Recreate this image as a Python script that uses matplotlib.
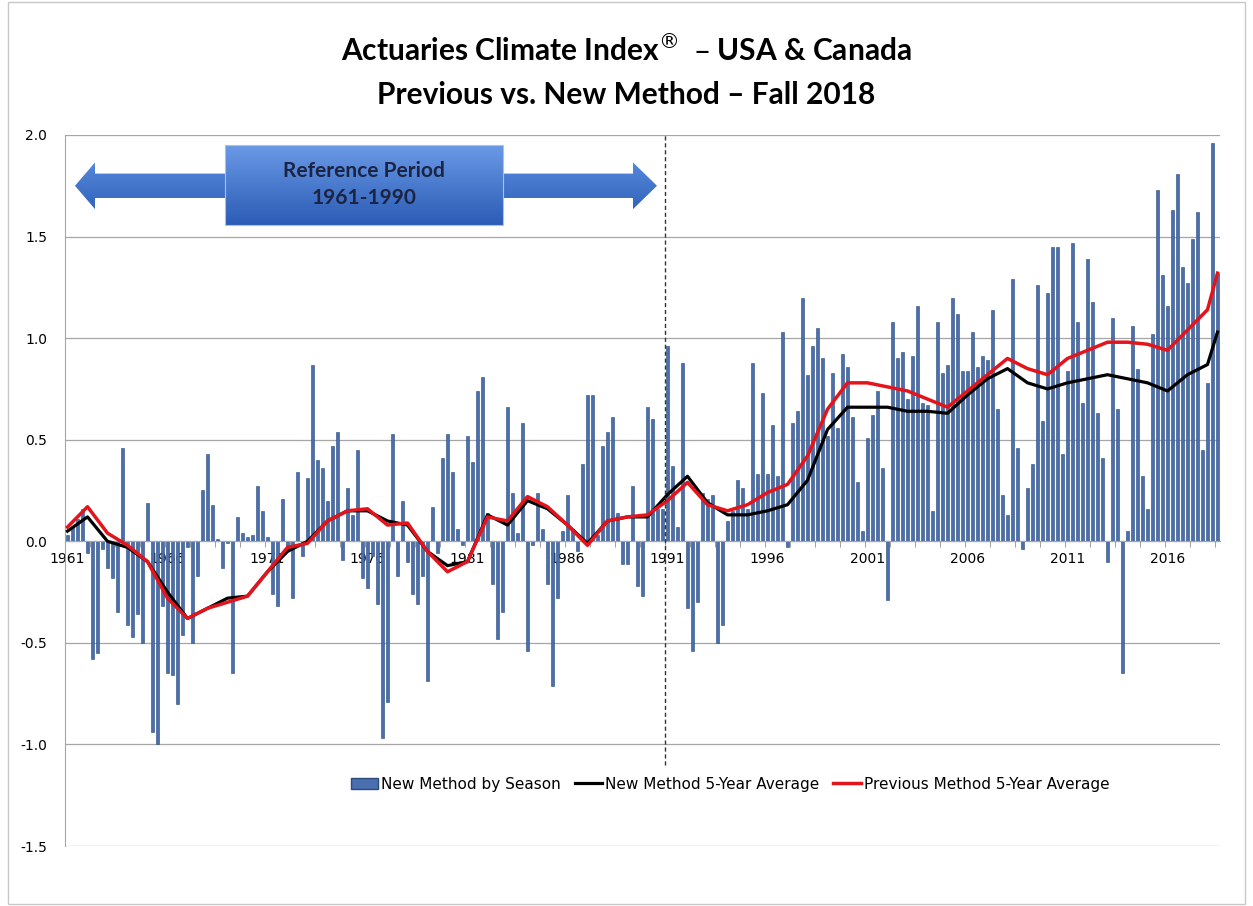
import numpy as np
import matplotlib.pyplot as plt
from matplotlib.patches import Patch, Polygon, Rectangle
from matplotlib.lines import Line2D

# Saisons : hiver 1961 -> automne 2018
season_vals = [
    0.03, 0.07, 0.11, 0.16, -0.06, -0.58, -0.55, -0.04, -0.13, -0.18, -0.35, 0.46, -0.41, -0.47, -0.36, -0.50, 0.19, -0.94, -1.00,
    -0.32, -0.65, -0.66, -0.80, -0.46, -0.03, -0.50, -0.17, 0.25, 0.43, 0.18, 0.01, -0.13, -0.01, -0.65, 0.12, 0.04, 0.02, 0.03,
    0.27, 0.15, 0.02, -0.26, -0.32, 0.21, -0.04, -0.28, 0.34, -0.07, 0.31, 0.87, 0.40, 0.36, 0.20, 0.47, 0.54, -0.09, 0.26, 0.13,
    0.45, -0.18, -0.23, -0.07, -0.31, -0.97, -0.79, 0.53, -0.17, 0.20, -0.10, -0.26, -0.31, -0.17, -0.69, 0.17, -0.06, 0.41, 0.53,
    0.34, 0.06, -0.02, 0.52, 0.39, 0.74, 0.81, 0.14, -0.21, -0.48, -0.35, 0.66, 0.24, 0.04, 0.58, -0.54, -0.02, 0.24, 0.06, -0.21,
    -0.71, -0.28, 0.05, 0.23, 0.06, -0.05, 0.38, 0.72, 0.72, 0.03, 0.47, 0.54, 0.61, 0.14, -0.11, -0.11, 0.27, -0.22, -0.27, 0.66,
    0.60, 0.16, 0.16, 0.96, 0.37, 0.07, 0.88, -0.33, -0.54, -0.30, 0.24, 0.21, 0.23, -0.50, -0.41, 0.10, 0.15, 0.30, 0.26,
    0.16, 0.88, 0.33, 0.73, 0.33, 0.57, 0.32, 1.03, -0.03, 0.58, 0.64, 1.20, 0.82, 0.96, 1.05, 0.90, 0.52, 0.83, 0.56, 0.92,
    0.86, 0.61, 0.29, 0.05, 0.51, 0.62, 0.74, 0.36, -0.29, 1.08, 0.90, 0.93, 0.70, 0.91, 1.16, 0.68, 0.67, 0.15, 1.08,
    0.83, 0.87, 1.20, 1.12, 0.84, 0.84, 1.03, 0.86, 0.91, 0.89, 1.14, 0.65, 0.23, 0.13, 1.29, 0.46, -0.04, 0.26, 0.38, 1.26,
    0.59, 1.22, 1.45, 1.45, 0.43, 0.84, 1.47, 1.08, 0.68, 1.39, 1.18, 0.63, 0.41, -0.10, 1.10, 0.65, -0.65, 0.05, 1.06, 0.85,
    0.32, 0.16, 1.02, 1.73, 1.31, 1.16, 1.63, 1.81, 1.35, 1.27, 1.49, 1.62, 0.45, 0.78, 1.96, 1.32,
]

# Moyennes mobiles 5 ans, lues au début de chaque année (+ dernier point)
years = list(range(1961, 2019))
new_avg = [
    0.05, 0.12, 0.00, -0.03, -0.10, -0.25, -0.38, -0.33, -0.28, -0.27,
    -0.15, -0.05, 0.00, 0.10, 0.15, 0.15, 0.10, 0.08, -0.05, -0.12,
    -0.10, 0.13, 0.08, 0.20, 0.16, 0.08, -0.01, 0.10, 0.12, 0.12,
    0.23, 0.32, 0.19, 0.13, 0.13, 0.15, 0.18, 0.30, 0.55, 0.66,
    0.66, 0.66, 0.64, 0.64, 0.63, 0.72, 0.80, 0.85, 0.78, 0.75,
    0.78, 0.80, 0.82, 0.80, 0.78, 0.74, 0.82, 0.87, 1.03,
]
prev_avg = [
    0.07, 0.17, 0.04, -0.02, -0.10, -0.28, -0.38, -0.33, -0.30, -0.27,
    -0.15, -0.03, -0.01, 0.10, 0.15, 0.16, 0.08, 0.09, -0.05, -0.15,
    -0.10, 0.12, 0.10, 0.22, 0.17, 0.08, -0.02, 0.10, 0.12, 0.13,
    0.20, 0.29, 0.18, 0.15, 0.18, 0.24, 0.28, 0.42, 0.65, 0.78,
    0.78, 0.76, 0.74, 0.70, 0.66, 0.74, 0.82, 0.90, 0.85, 0.82,
    0.90, 0.94, 0.98, 0.98, 0.97, 0.94, 1.04, 1.14, 1.32,
]

n = len(season_vals)
idx = np.arange(n)
line_x = [4 * (y - 1961) for y in years] + [n - 1]

fig = plt.figure(figsize=(12.53, 9.06), dpi=100)
fig.patches.append(Rectangle((8 / 1253, 0.002), 1 - 16 / 1253, 0.996, transform=fig.transFigure,
                             fill=False, edgecolor='#c8c8c8', lw=1))
ax = fig.add_axes([65 / 1253, 1 - 846 / 906, (1220 - 65) / 1253, (846 - 135) / 906])

ax.bar(idx, season_vals, width=0.7, color='#4a6fae', edgecolor='#2b4a7c', linewidth=0.4, zorder=2)
ax.plot(line_x, new_avg, color='black', lw=2.3, zorder=3)
ax.plot(line_x, prev_avg, color='#e3141b', lw=2.5, zorder=4)

ax.set_xlim(-0.5, n - 0.5)
ax.set_ylim(-1.5, 2.0)
ax.set_yticks(np.arange(-1.5, 2.01, 0.5))
ax.set_yticklabels([f'{v:.1f}' for v in np.arange(-1.5, 2.01, 0.5)], fontsize=10)
ax.yaxis.grid(True, color='#a6a6a6', lw=0.9)
ax.set_axisbelow(True)
ax.tick_params(axis='y', length=0, pad=13)

label_pos = list(range(0, n, 20))
ax.set_xticks(label_pos)
ax.set_xticklabels([str(1961 + p // 4) for p in label_pos], fontsize=9.5, fontweight='bold')
ax.set_xticks(np.arange(4.5, n, 5), minor=True)
ax.tick_params(axis='x', which='major', length=0, pad=8)
ax.tick_params(axis='x', which='minor', length=4, color='#909090', direction='out')

for s in ['top', 'right']:
    ax.spines[s].set_visible(False)
ax.spines['left'].set_color('#a6a6a6')
ax.spines['bottom'].set_position(('data', 0))
ax.spines['bottom'].set_color('#a6a6a6')

# ligne pointillée 1991
ax.axvline(119.5, ymin=(-1.1 + 1.5) / 3.5, ymax=1, color='#333333', lw=1, ls=(0, (3, 2)), zorder=5)

# flèche + boîte "Reference Period"
arrow_pts = [(1.5, 1.75), (5.5, 1.865), (5.5, 1.81), (113.1, 1.81), (113.1, 1.865), (117.9, 1.75),
             (113.1, 1.635), (113.1, 1.69), (5.5, 1.69), (5.5, 1.635)]
grad = np.linspace(0, 1, 100).reshape(-1, 1)
arrow = Polygon(arrow_pts, closed=True, facecolor='none', edgecolor='none')
ax.add_patch(arrow)
im = ax.imshow(grad, cmap=plt.matplotlib.colors.LinearSegmentedColormap.from_list('g', ['#5488dc', '#3464bc']),
               extent=(1.5, 117.9, 1.635, 1.865), origin='upper', aspect='auto', zorder=6)
im.set_clip_path(arrow)
box = Rectangle((31.5, 1.557), 55.6, 0.394, facecolor='none', edgecolor='#a9c0e8', lw=0.8, zorder=8)
ax.add_patch(box)
im2 = ax.imshow(grad, cmap=plt.matplotlib.colors.LinearSegmentedColormap.from_list('g2', ['#6a9ae6', '#2c5cb5']),
                extent=(31.5, 87.1, 1.557, 1.951), origin='upper', aspect='auto', zorder=7)
im2.set_clip_path(box)
ax.text(59.3, 1.755, 'Reference Period\n1961-1990', ha='center', va='center', fontsize=15,
        fontweight='bold', family='Lato', color='#1c2444', linespacing=1.45, zorder=9)
ax.set_xlim(-0.5, n - 0.5)
ax.set_ylim(-1.5, 2.0)

handles = [Patch(facecolor='#4a6fae', edgecolor='#2b4a7c'),
           Line2D([], [], color='black', lw=2.3),
           Line2D([], [], color='#e3141b', lw=2.5)]
ax.legend(handles, ['New Method by Season', 'New Method 5-Year Average', 'Previous Method 5-Year Average'],
          loc='center', bbox_to_anchor=(0.576, 0.087), ncol=3, frameon=False, fontsize=11,
          handlelength=1.8, handletextpad=0.2, columnspacing=0.9)

fig.text(0.5, 1 - 50 / 906, r'Actuaries Climate Index$^{\circledR}$  – USA & Canada', ha='center', va='center',
         fontsize=21.5, fontweight='bold', family='Lato')
fig.text(0.5, 1 - 95 / 906, 'Previous vs. New Method – Fall 2018', ha='center', va='center',
         fontsize=21.5, fontweight='bold', family='Lato')

fig.savefig('out.png', dpi=100)
